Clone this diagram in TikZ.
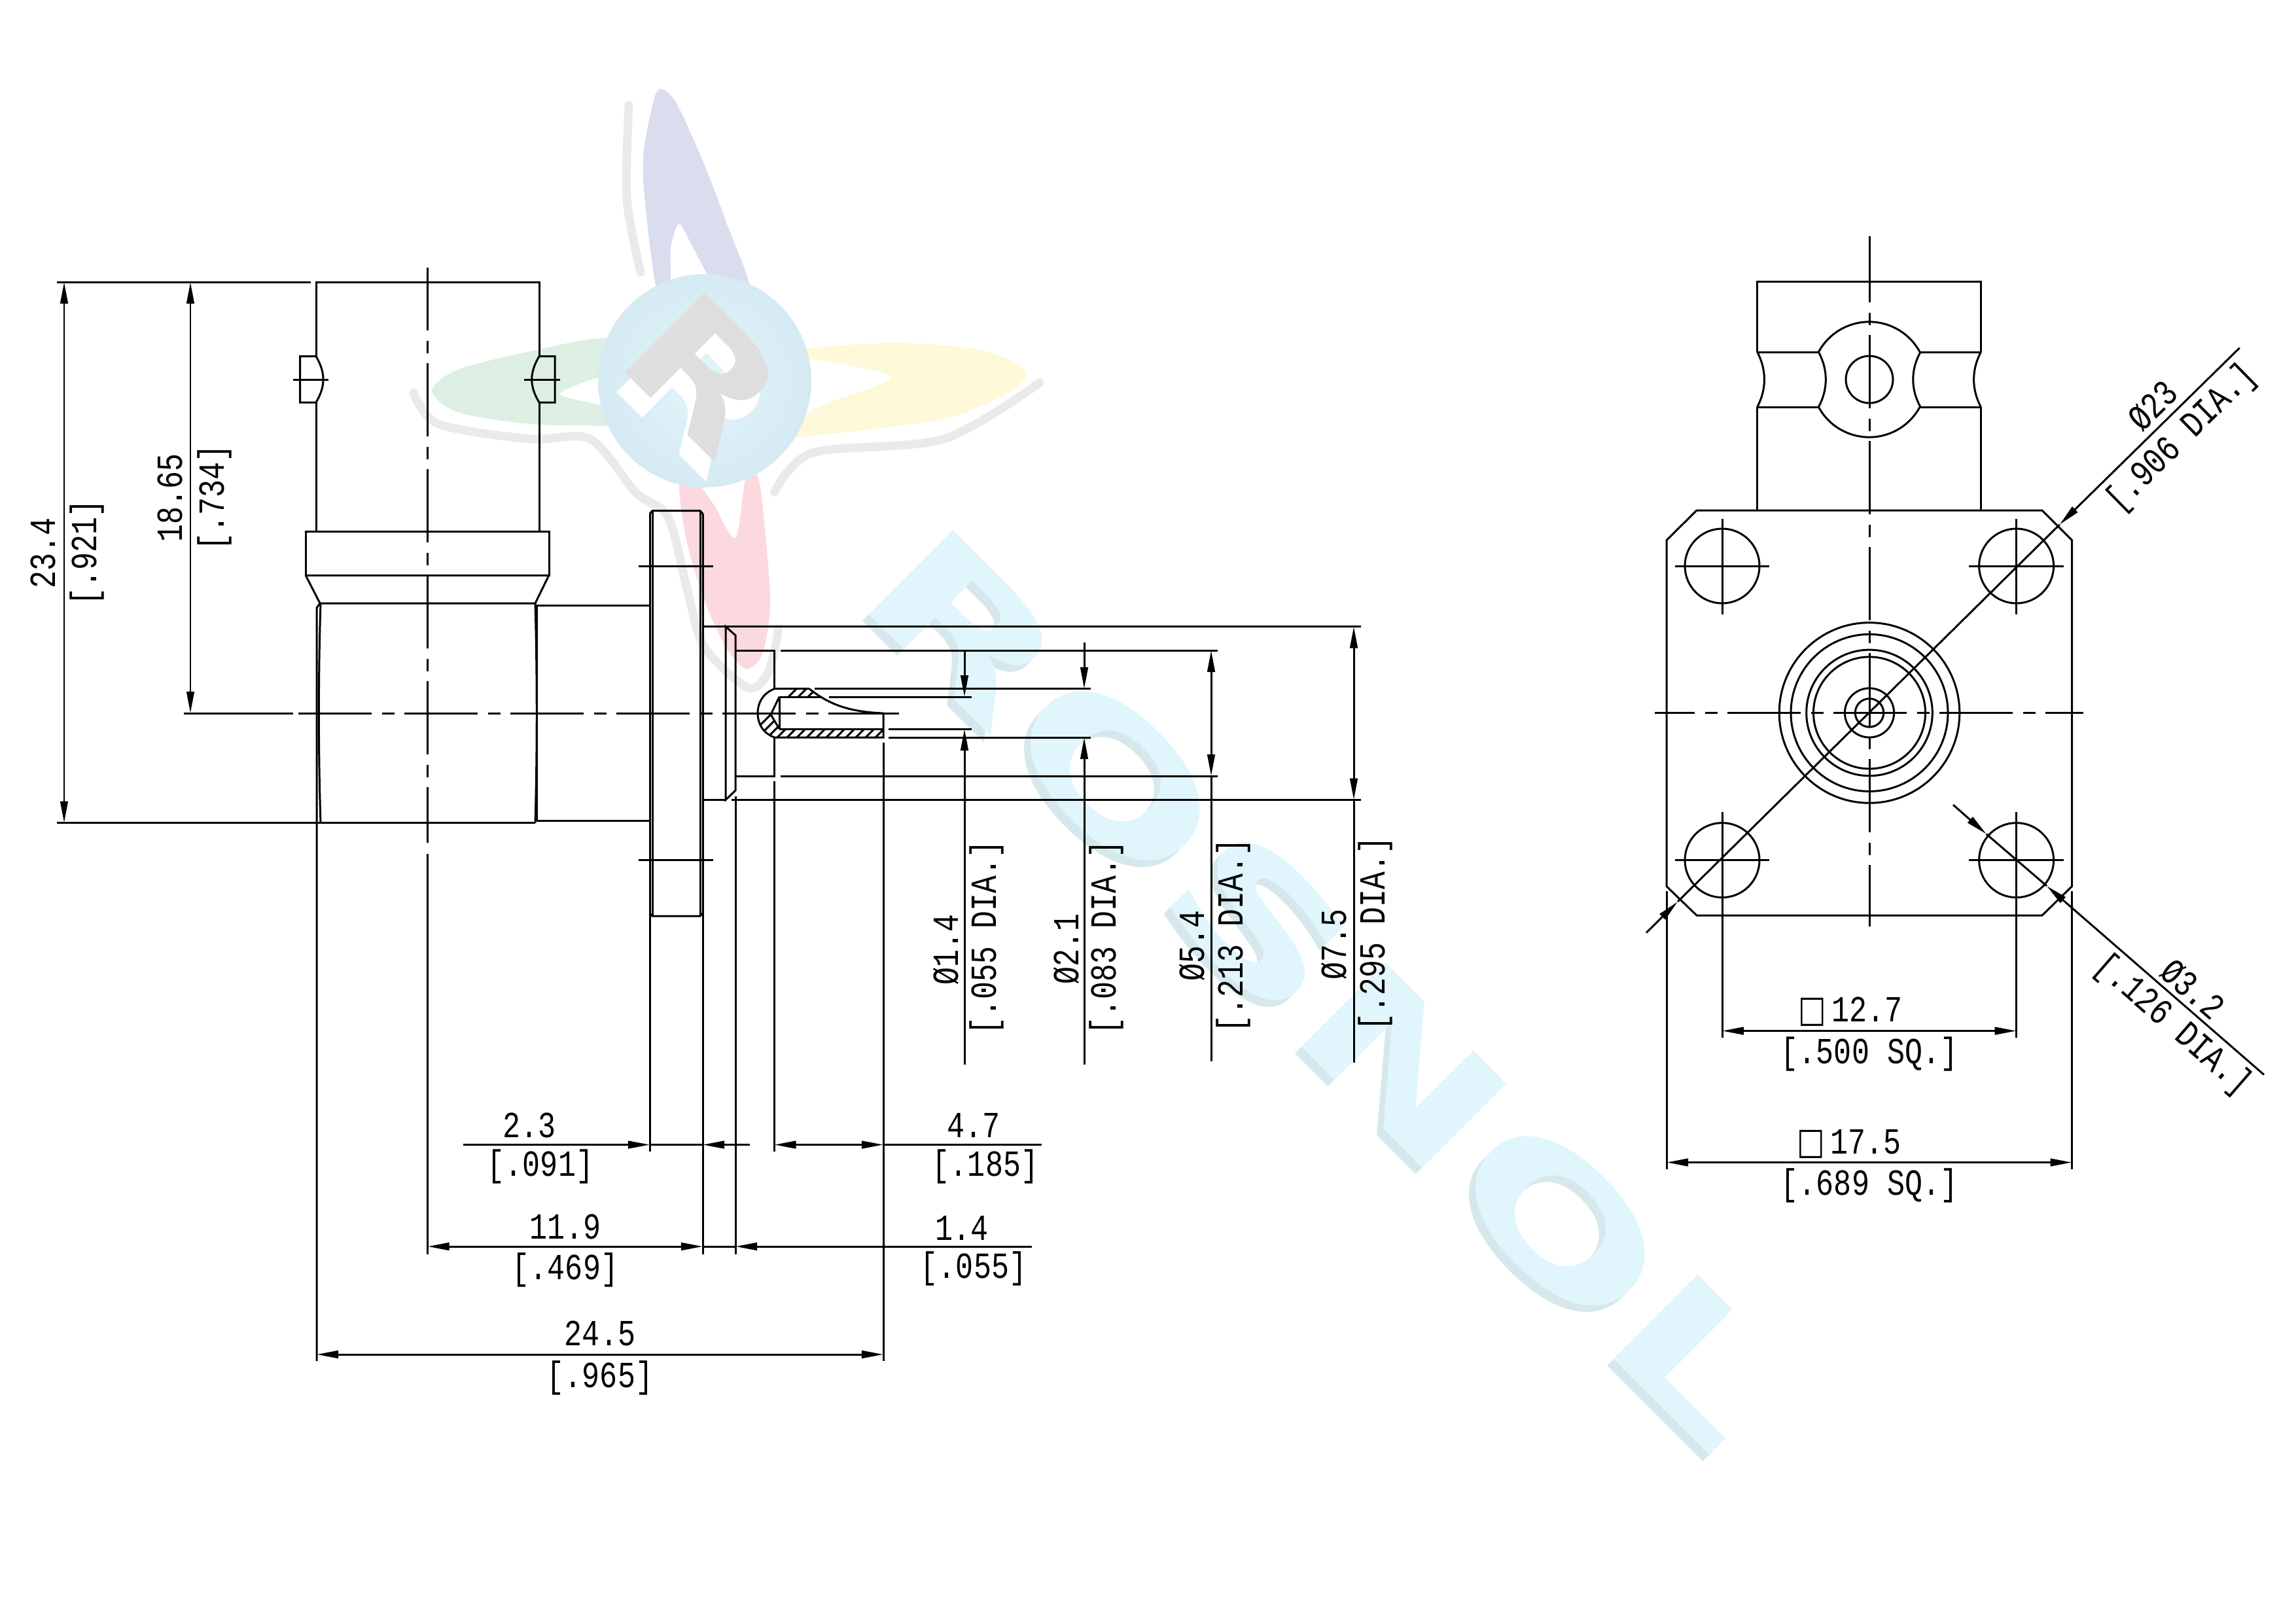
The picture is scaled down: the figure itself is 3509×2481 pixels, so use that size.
\documentclass[tikz,border=0pt]{standalone}
\usepackage{fontspec}
\setmonofont{Liberation Mono}
\newfontfamily\marksans{DejaVu Sans}
\usetikzlibrary{arrows.meta}
\definecolor{petalblue}{HTML}{D9DDEE}
\definecolor{petalgreen}{HTML}{DCEFE2}
\definecolor{petalyellow}{HTML}{FDF9D9}
\definecolor{petalred}{HTML}{FBD9DF}
\definecolor{markgrey}{HTML}{DEDEDE}
\definecolor{markshadow}{HTML}{EAEAEA}
\definecolor{lettercyan}{HTML}{E0F6FC}
\definecolor{lettershadow}{HTML}{D6E8EC}
\definecolor{ballcentre}{HTML}{E2F5FA}
\definecolor{balledge}{HTML}{D6EAF3}
\tikzstyle{dimtext} = [font=\fontsize{16}{18}\selectfont\ttfamily,
inner sep=0pt,
text height=10.5pt,
text depth=0pt,
xscale=0.8]
\tikzstyle{letters} = [font=\fontsize{71}{80}\selectfont\marksans\bfseries,
inner sep=0pt,
xscale=1.6]
\tikzstyle{logoletter} = [font=\fontsize{67}{70}\selectfont\marksans\bfseries,
inner sep=0pt,
xscale=1.25]
\tikzstyle{dimarrow} = [->,>={Triangle[length=3.3mm,width=1.15mm]}]
\tikzstyle{dimboth} = [<->,>={Triangle[length=3.3mm,width=1.15mm]}]
\tikzstyle{centreline} = [dash pattern=on 1.12cm off 0.16cm on 0.19cm off 0.15cm]
\tikzstyle{shadowline} = [draw=markshadow, line width=0.13cm, line cap=round]

\begin{document}
\begin{tikzpicture}[x=0.01cm, y=-0.01cm, line width=0.85pt]
\useasboundingbox (0,0) rectangle (3509,2481);

% Watermark word
\node (wordshadow) [rotate=-45, letters, text=lettershadow] at (2016,1518) {ROSNOL};
\node (word) [rotate=-45, letters, text=lettercyan] at (2026,1508) {ROSNOL};

% Logo
\draw [shadowline] plot[smooth] coordinates {(961,161) (958,304) (979,416)};
\draw [shadowline] plot[smooth] coordinates {(632,600) (670,648) (810,671) (902,671) (972,753) (1021,790) (1050,900) (1076,988) (1143,1051) (1175,1026) (1190,960)};
\draw [shadowline] plot[smooth] coordinates {(1184,752) (1242,692) (1442,671) (1589,585)};
\fill [petalblue] plot[smooth cycle, tension=0.5] coordinates {(1003,440) (985,300) (984,230) (1000,150) (1012,136) (1035,160) (1077,253) (1110,340) (1145,440) (1091,430) (1060,380) (1038,342) (1025,380) (1024,440)};
\fill [petalgreen] plot[smooth cycle, tension=0.5] coordinates {(660,597) (700,565) (810,537) (930,518) (950,574) (923,574) (856,602) (923,622) (950,655) (930,651) (810,648) (700,630)};
\fill [petalyellow] plot[smooth cycle, tension=0.5] coordinates {(1568,567) (1500,535) (1372,524) (1240,532) (1200,540) (1245,549) (1361,577) (1245,625) (1200,670) (1224,668) (1442,640) (1540,600)};
\fill [petalred] plot[smooth cycle, tension=0.5] coordinates {(1038,735) (1050,830) (1079,924) (1110,990) (1140,1022) (1165,1000) (1177,924) (1170,820) (1159,730) (1140,730) (1124,822) (1090,770) (1063,735)};
\shade [inner color=ballcentre, outer color=balledge] (1077,582) circle (163);
\node (logoback) [rotate=-45, logoletter, text=white] at (1064,600) {R};
\node (logoR) [rotate=-45, logoletter, text=markgrey] at (1077,570) {R};

% Side view, cable end
\draw (483,544.5) -- (483,431) -- (824,431) -- (824,544.5);
\draw (87,431) -- (475,431);
\draw (483,615) -- (483,812);
\draw (824,615) -- (824,812);
\draw (483,544.5) -- (458.7,544.5) -- (458.7,615) -- (483,615) .. controls (497.7,590) and (497.7,570) .. (483,544.5);
\draw (824,544.5) -- (848,544.5) -- (848,615) -- (824,615) .. controls (809,590) and (809,570) .. (824,544.5);
\draw (448,580) -- (502,580);
\draw (800.5,580) -- (856,580);
\draw (467,812) rectangle (839,879);
\draw (467,879) -- (489,922);
\draw (839,879) -- (818,922);
\draw (818,922) -- (489,922) -- (484,929) -- (484,2080);
\draw (87,1257.5) -- (484,1257.5) -- (490,1257.5) -- (818,1257.5);
\draw (490,922) .. controls (486.5,1030) and (486.5,1150) .. (490,1257.5);
\draw (818,922) .. controls (821,1030) and (821,1150) .. (818,1257.5);
\draw (820,925) -- (820,1254);
\draw (820,925) -- (993,925);
\draw (820,1254) -- (993,1254);

% Flange
\draw (993,785) -- (997,780.5) -- (1070,780.5) -- (1074,785);
\draw (993,1396) -- (997,1400) -- (1070,1400) -- (1074,1396);
\draw (993,785) -- (993,1760);
\draw (997,780.5) -- (997,1400);
\draw (1070,780.5) -- (1070,1400);
\draw (1074,785) -- (1074,1917);
\draw (976,865) -- (1090,865);
\draw (976,1314) -- (1090,1314);

% Step and pin
\draw (1074,957.5) -- (2080,957.5);
\draw (1074,1222.5) -- (1109,1222.5);
\draw (1118,1222.5) -- (2080,1222.5);
\draw (1109,957.5) -- (1124,971) -- (1124,1208) -- (1109,1222.5) -- cycle;
\draw (1124,1217) -- (1124,1917);
\draw (1124,994) -- (1183.5,994) -- (1183.5,1052.7);
\draw (1183.5,1127) -- (1183.5,1186) -- (1124,1186);
\draw (1183.5,1194) -- (1183.5,1760);
\draw (1193,994) -- (1861,994);
\draw (1193,1186) -- (1861,1186);
\begin{scope}
\clip (1183.5,1052.7) -- (1237,1052.7) -- (1254,1065) -- (1191,1065) -- (1178,1092) -- (1191,1114) -- (1350,1114) -- (1350,1127) -- (1183.5,1127) .. controls (1165,1120) and (1158,1105) .. (1158,1090) .. controls (1158,1075) and (1165,1060) .. (1183.5,1052.7);
\foreach \x in {1140,1155,...,1350}
  \draw (\x,1130) -- ({\x+90},1040);
\end{scope}
\draw (1237,1052.7) -- (1183.5,1052.7) .. controls (1165,1060) and (1158,1075) .. (1158,1090) .. controls (1158,1105) and (1165,1120) .. (1183.5,1127) -- (1350,1127) -- (1350,1090);
\draw (1237,1052.7) .. controls (1265,1075) and (1295,1088) .. (1350,1090);
\draw (1191,1065) -- (1254,1065);
\draw (1191,1114) -- (1350,1114);
\draw (1191,1065) -- (1191,1114);
\draw (1191,1065) -- (1178,1092) -- (1191,1114);
\draw (1245,1052.7) -- (1667,1052.7);
\draw (1267,1065) -- (1485,1065);
\draw (1358,1114) -- (1485,1114);
\draw (1358,1127) -- (1667,1127);
\draw (1350,1135) -- (1350,2080);

% Centre lines of side view
\draw (281,1090) -- (448,1090);
\draw [centreline] (456,1090) -- (1374,1090);
\draw [centreline, dash phase=0.16cm] (653,409) -- (653,1288);
\draw (653,1305) -- (653,1917);

% Side view dimensions
\draw [dimboth] (98,431) -- (98,1257.5);
\draw [dimboth] (291,431) -- (291,1090);
\draw [dimboth] (484,2070) -- (1350,2070);
\draw [dimboth] (653.6,1905) -- (1074,1905);
\draw (1074,1905) -- (1124,1905);
\draw [dimarrow] (1576.5,1905) -- (1124,1905);
\draw [dimarrow] (708,1749.5) -- (993,1749.5);
\draw (993,1749.5) -- (1074,1749.5);
\draw [dimarrow] (1146,1749.5) -- (1074,1749.5);
\draw [dimboth] (1183.5,1749.5) -- (1350,1749.5);
\draw (1350,1749.5) -- (1592,1749.5);
\draw [dimarrow] (1474,994) -- (1474,1065);
\draw [dimarrow] (1474,1627) -- (1474,1114);
\draw [dimarrow] (1657,982) -- (1657,1052.7);
\draw [dimarrow] (1657,1627) -- (1657,1127);
\draw [dimboth] (1851,994) -- (1851,1186);
\draw (1851,1186) -- (1851,1622);
\draw [dimboth] (2069,957.5) -- (2069,1222.5);
\draw (2069,1222.5) -- (2069,1624);

\node (t234) [rotate=90, dimtext] at (66,845) {23.4};
\node (t921) [rotate=90, dimtext] at (129,844) {[.921]};
\node (t1865) [rotate=90, dimtext] at (260,761) {18.65};
\node (t734) [rotate=90, dimtext] at (324,760) {[.734]};
\node (t14d) [rotate=90, dimtext] at (1446,1451) {Ø1.4};
\node (t055d) [rotate=90, dimtext] at (1504,1433) {[.055 DIA.]};
\node (t21d) [rotate=90, dimtext] at (1630,1450) {Ø2.1};
\node (t083d) [rotate=90, dimtext] at (1687,1433) {[.083 DIA.]};
\node (t54d) [rotate=90, dimtext] at (1822,1445) {Ø5.4};
\node (t213d) [rotate=90, dimtext] at (1881,1430) {[.213 DIA.]};
\node (t75d) [rotate=90, dimtext] at (2039,1443) {Ø7.5};
\node (t295d) [rotate=90, dimtext] at (2098,1427) {[.295 DIA.]};
\node (t23) [dimtext] at (809,1720) {2.3};
\node (t091) [dimtext] at (826,1779) {[.091]};
\node (t47) [dimtext] at (1488,1720) {4.7};
\node (t185) [dimtext] at (1506,1779) {[.185]};
\node (t119) [dimtext] at (864,1875) {11.9};
\node (t469) [dimtext] at (864,1937) {[.469]};
\node (t14) [dimtext] at (1470,1877) {1.4};
\node (t055) [dimtext] at (1488,1935) {[.055]};
\node (t245) [dimtext] at (917,2038) {24.5};
\node (t965) [dimtext] at (917,2102) {[.965]};

% Front view
\draw (2685.6,780) -- (2685.6,622);
\draw (2685.6,538) -- (2685.6,430.7) -- (3027.4,430.7) -- (3027.4,538);
\draw (3027.4,622) -- (3027.4,780);
\draw (2685.6,538) -- (2779.3,538);
\draw (2685.6,622) -- (2779.3,622);
\draw (2935,538) -- (3027.4,538);
\draw (2935,622) -- (3027.4,622);
\draw (2685.6,538) .. controls (2700,565) and (2700,595) .. (2685.6,622);
\draw (3027.4,538) .. controls (3013,565) and (3013,595) .. (3027.4,622);
\draw (2779.3,538) .. controls (2794,565) and (2794,595) .. (2779.3,622);
\draw (2935,538) .. controls (2920,565) and (2920,595) .. (2935,622);
\draw (2779.3,538) arc (208.4:331.6:88);
\draw (2779.3,622) arc (151.6:28.4:88);
\draw (2857,580) circle (36);
\draw (2593,780) -- (3121,780) -- (3166.5,825.6) -- (3166.5,1354.6) -- (3121,1399) -- (2593,1399) -- (2547,1354.6) -- (2547,825.6) -- cycle;
\foreach \r in {137.8,120,96.3,85.5,37.6,21.7}
  \draw (2857,1089.4) circle (\r);
\foreach \hx in {2632,3081.6}
{
  \draw (\hx,865) circle (57);
  \draw (\hx,1314.6) circle (57);
  \draw ({\hx-72.4},865) -- ({\hx+72.4},865);
  \draw ({\hx-72.4},1314.6) -- ({\hx+72.4},1314.6);
  \draw (\hx,793) -- (\hx,939);
  \draw (\hx,1241) -- (\hx,1586);
}
\draw [centreline, dash phase=0.11cm] (2857,360.5) -- (2857,1416);
\draw [centreline, dash phase=0.51cm] (2529,1089.4) -- (3184,1089.4);

% Front view dimensions
\draw (2547,1362) -- (2547,1787);
\draw (3166.5,1362) -- (3166.5,1787);
\draw [dimboth] (2632,1575.5) -- (3081.6,1575.5);
\draw [dimboth] (2547,1776.5) -- (3166.5,1776.5);
\draw [dimarrow] (3422.7,531.7) -- (3147.7,801.7);
\draw (3147.7,801.7) -- (2564,1378);
\draw [dimarrow] (2516,1425.5) -- (2564,1378);
\draw [dimarrow] (2985,1230) -- (3035.7,1274.6);
\draw (3035.7,1274.6) -- (3128,1354);
\draw [dimarrow] (3460,1642.5) -- (3128,1354);

\node (t127) [dimtext] at (2828,1543) {{\marksans□}\,12.7};
\node (t500) [dimtext] at (2857,1607) {[.500 SQ.]};
\node (t175) [dimtext] at (2826,1745) {{\marksans□}\,17.5};
\node (t689) [dimtext] at (2857,1808) {[.689 SQ.]};
\node (t23d) [rotate=44.5, dimtext] at (3290,620) {Ø23};
\node (t906d) [rotate=44.5, dimtext] at (3332,667) {[.906 DIA.]};
\node (t32d) [rotate=-41, dimtext] at (3351,1512) {Ø3.2};
\node (t126d) [rotate=-41, dimtext] at (3323,1564) {[.126 DIA.]};

\end{tikzpicture}
\end{document}
